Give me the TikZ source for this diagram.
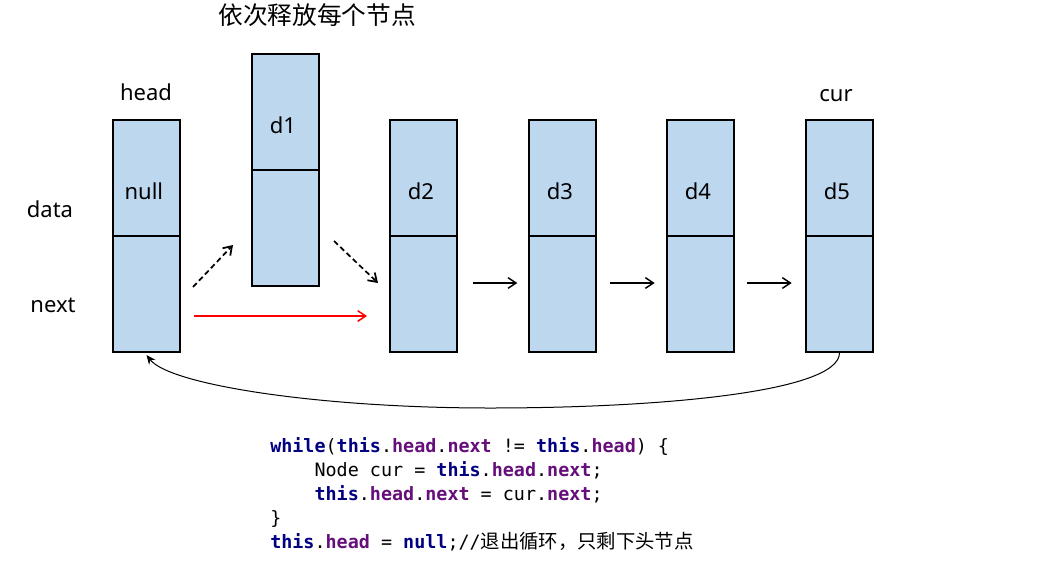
\documentclass[tikz,border=0pt]{standalone}
\usepackage{fontspec}
\setmainfont{Noto Sans}
\newfontfamily\cjkfont{Noto Sans CJK SC}
\newfontfamily\codefont{DejaVu Sans Mono}
\usetikzlibrary{arrows.meta}
\definecolor{cellblue}{RGB}{189,215,238}
\definecolor{kwblue}{RGB}{0,0,128}
\definecolor{fdpurple}{RGB}{102,14,122}
\newcommand{\kw}[1]{\textcolor{kwblue}{\bfseries #1}}
\newcommand{\fd}[1]{\textcolor{fdpurple}{\bfseries #1}}
\tikzset{
  cellbox/.style={draw=black, line width=1.5pt, fill=cellblue, minimum width=50.25pt, minimum height=87pt, inner sep=0pt},
  lbl/.style={font=\fontsize{16.5}{18}\selectfont, inner sep=0pt},
  arr/.style={line width=1.1pt, -{Straight Barb[length=6pt,width=8pt]}},
  darr/.style={arr, line width=1.3pt, dash pattern=on 4pt off 2.5pt},
  codeline/.style={anchor=base west, inner sep=0pt, font=\codefont\fontsize{13.8}{16}\selectfont}
}
\begin{document}
\begin{tikzpicture}[x=0.75pt,y=-0.75pt]
\useasboundingbox (0,0) rectangle (1053,561);
% cells
\node[cellbox] (hd) at (146.5,178) {};
\node[cellbox] (hn) at (146.5,294) {};
\node[cellbox] (d1d) at (285.5,111.5) {};
\node[cellbox] (d1n) at (285.5,228) {};
\node[cellbox] (d2d) at (423.5,178) {};
\node[cellbox] (d2n) at (423.5,294) {};
\node[cellbox] (d3d) at (562.5,178) {};
\node[cellbox] (d3n) at (562.5,294) {};
\node[cellbox] (d4d) at (700.5,178) {};
\node[cellbox] (d4n) at (700.5,294) {};
\node[cellbox] (d5d) at (839.5,178) {};
\node[cellbox] (d5n) at (839.5,294) {};
% cell texts
\node[lbl] (tnull) at ([xshift=-2pt,yshift=-10pt]hd.center) {null};
\node[lbl] (td1) at ([xshift=-2pt,yshift=-10.5pt]d1d.center) {d1};
\node[lbl] (td2) at ([xshift=-2pt,yshift=-10pt]d2d.center) {d2};
\node[lbl] (td3) at ([xshift=-2pt,yshift=-10pt]d3d.center) {d3};
\node[lbl] (td4) at ([xshift=-2pt,yshift=-10pt]d4d.center) {d4};
\node[lbl] (td5) at ([xshift=-2pt,yshift=-10pt]d5d.center) {d5};
% labels
\node[lbl] (lhead) at (146,92) {head};
\node[lbl] (lcur) at (836,96) {cur};
\node[lbl] (ldata) at (50,209) {data};
\node[lbl] (lnext) at (53,305) {next};
\node[inner sep=0pt, font=\cjkfont\fontsize{18.5}{20}\selectfont] (title) at (317,15) {依次释放每个节点};
% arrows
\coordinate (a1s) at (193,287);
\coordinate (a1e) at (233,245);
\coordinate (a2s) at (334,241);
\coordinate (a2e) at (378,283);
\draw[darr] (a1s) -- (a1e);
\draw[darr] (a2s) -- (a2e);
\draw[arr, red] ([xshift=9.75pt,yshift=-16.5pt]hn.east) -- ([xshift=-16.5pt,yshift=-16.5pt]d2n.west);
\draw[arr] ([xshift=11pt,yshift=8.25pt]d2n.east) -- ([xshift=-8pt,yshift=8.25pt]d3n.west);
\draw[arr] ([xshift=9.5pt,yshift=8.25pt]d3n.east) -- ([xshift=-8.5pt,yshift=8.25pt]d4n.west);
\draw[arr] ([xshift=9pt,yshift=8.25pt]d4n.east) -- ([xshift=-10pt,yshift=8.25pt]d5n.west);
% back curve
\coordinate (cb) at (490,408);
\draw[line width=0.75pt, -{Stealth[length=7pt,width=6pt]}] (d5n.south) .. controls (839,392) and (660,408) .. (cb) .. controls (320,408) and (170,385) .. ([yshift=-1.5pt]hn.south);
% code
\node[codeline] (c1) at (270,452) {\kw{while}(\kw{this}.\fd{head}.\fd{next} != \kw{this}.\fd{head}) \{};
\node[codeline] (c2) at (270,476) {\phantom{1234}Node cur = \kw{this}.\fd{head}.\fd{next};};
\node[codeline] (c3) at (270,500) {\phantom{1234}\kw{this}.\fd{head}.\fd{next} = cur.\fd{next};};
\node[codeline] (c4) at (270,524) {\}};
\node[codeline] (c5) at (270,548) {\kw{this}.\fd{head} = \kw{null};//{\cjkfont\fontsize{14.5}{16}\selectfont 退出循环，只剩下头节点}};
\end{tikzpicture}
\end{document}
